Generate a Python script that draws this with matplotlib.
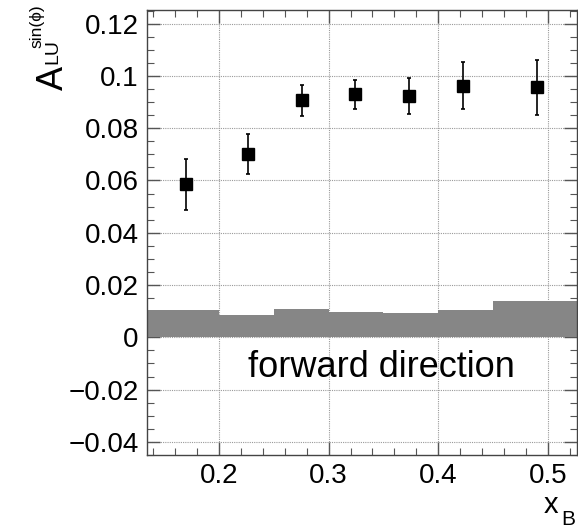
import matplotlib
matplotlib.use("Agg")
import matplotlib.pyplot as plt
from matplotlib.ticker import FuncFormatter, MultipleLocator, AutoMinorLocator

plt.rcParams["font.family"] = ["Liberation Sans", "DejaVu Sans"]

# beam-spin asymmetry per x_B bin
x_b = [0.170, 0.227, 0.276, 0.324, 0.373, 0.422, 0.490]
a_lu = [0.0586, 0.0700, 0.0907, 0.0929, 0.0923, 0.0962, 0.0957]
a_lu_err = [0.0098, 0.0076, 0.0060, 0.0057, 0.0070, 0.0090, 0.0105]

# systematic uncertainty band
sys_edges = [0.10, 0.20, 0.25, 0.30, 0.35, 0.40, 0.45, 0.60]
sys_height = [0.0104, 0.0085, 0.0108, 0.0097, 0.0093, 0.0104, 0.0139]

W, H = 578, 529
fig = plt.figure(figsize=(W / 100, H / 100), dpi=100)
ax = fig.add_axes([147 / W, 74 / H, 430 / W, 445 / H])

ax.stairs(sys_height, sys_edges, baseline=0.0, fill=True,
          color="#868686", zorder=2)

ax.errorbar(x_b, a_lu, yerr=a_lu_err, fmt="s", color="black",
            markersize=8, elinewidth=1.2, capsize=1.5, capthick=1.2,
            zorder=4)

ax.set_xlim(0.1347, 0.5262)
ax.set_ylim(-0.045, 0.1252)

ax.xaxis.set_major_locator(MultipleLocator(0.1))
ax.xaxis.set_minor_locator(AutoMinorLocator(5))
ax.yaxis.set_major_locator(MultipleLocator(0.02))
ax.yaxis.set_minor_locator(AutoMinorLocator(4))


def _root_fmt(v, _pos):
    if abs(v) < 1e-9:
        return "0"
    return ("%g" % round(v, 4)).replace("-", "\u2212")


ax.xaxis.set_major_formatter(FuncFormatter(_root_fmt))
ax.yaxis.set_major_formatter(FuncFormatter(_root_fmt))

ax.tick_params(which="both", direction="in", top=True, right=True,
               color="#555555", labelsize=20)
ax.tick_params(which="major", length=9.5, width=1.0, pad=6)
ax.tick_params(which="minor", length=5, width=0.8)

ax.grid(True, which="major", color="#9a9a9a", linestyle=(0, (1, 1)),
        linewidth=0.8, zorder=1)
ax.set_axisbelow(True)
for spine in ax.spines.values():
    spine.set_color("#444444")
    spine.set_linewidth(1.0)


def _label(x_px, y_px, s, size, rot=0):
    # place a piece of an axis title by its baseline start, in pixels
    fig.text(x_px / W, 1 - y_px / H, s, fontsize=size, rotation=rot,
             rotation_mode="anchor", ha="left", va="baseline")


# y title: A_LU^sin(phi), pieces laid out along the rotated baseline
_label(63, 90, "A", 26, rot=90)
_label(57, 64, "LU", 14, rot=90)
_label(41, 48, "sin(\u03d5)", 12.5, rot=90)

# x title: x_B
_label(544, 513, "x", 21)
_label(561, 525, "B", 15)

ax.text(0.546, 0.175, "forward direction", transform=ax.transAxes,
        ha="center", va="baseline", fontsize=26, zorder=5)

fig.savefig("out.png", dpi=100)
